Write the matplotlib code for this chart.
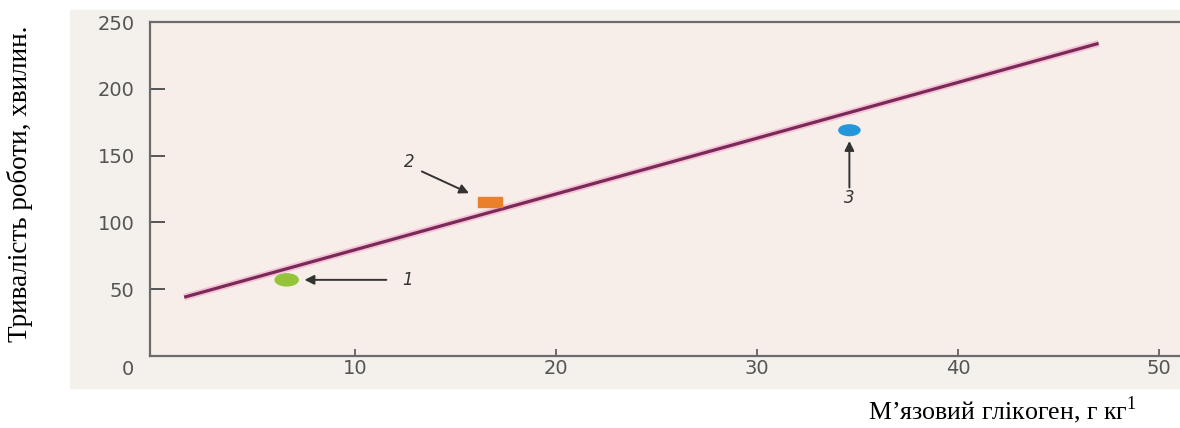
import numpy as np
import matplotlib
matplotlib.use("Agg")
import matplotlib.pyplot as plt
from matplotlib.patches import Ellipse, Rectangle

plt.rcParams["mathtext.fontset"] = "custom"
plt.rcParams["mathtext.rm"] = "Liberation Serif"

# дані
line_x = [1.5, 47.0]
line_y = [44.0, 234.0]

pt_labels = ["1", "2", "3"]
pt_x = [6.6, 16.7, 34.6]
pt_y = [57, 115, 169]
pt_colors = ["#93c43a", "#e9812c", "#2496dc"]

y_ticks = [50, 100, 150, 200, 250]
x_ticks = [10, 20, 30, 40, 50]

W, H = 1180, 428
fig = plt.figure(figsize=(W / 100, H / 100), dpi=100)
fig.patch.set_facecolor("white")

# фон сканованого малюнка
fig.add_artist(Rectangle((70 / W, 1 - 388 / H), 1110 / W, 378 / H,
                         transform=fig.transFigure, color="#f4f0ec", zorder=0))

ax = fig.add_axes([150 / W, 1 - 356 / H, 1030 / W, 334 / H])
ax.set_facecolor("#f7eee9")
ax.set_xlim(-0.2, 51.05)
ax.set_ylim(0, 250)

for s in ["top", "left", "bottom"]:
    ax.spines[s].set_color("#6b6b6b")
    ax.spines[s].set_linewidth(1.6)
ax.spines["right"].set_visible(False)

tick_font = dict(family="DejaVu Sans", size=14, color="#555555")
ax.set_yticks(y_ticks)
ax.set_yticklabels([str(v) for v in y_ticks], **tick_font)
ax.set_xticks(x_ticks)
ax.set_xticklabels([str(v) for v in x_ticks], **tick_font)
ax.tick_params(axis="y", direction="in", length=11, width=1.4, color="#555555", pad=11)
ax.tick_params(axis="x", direction="in", length=5, width=1.2, color="#555555", pad=2)
ax.text(-0.021, -0.012, "0", transform=ax.transAxes, ha="center", va="top", **tick_font)

# лінія регресії (з рожевим ореолом)
ax.plot(line_x, line_y, color="#f2a6c8", lw=5, alpha=0.6, solid_capstyle="butt", zorder=3)
ax.plot(line_x, line_y, color="#7a2a58", lw=2.3, solid_capstyle="butt", zorder=4)

# точки
ax.add_patch(Ellipse((pt_x[0], pt_y[0]), 1.15, 9, color=pt_colors[0], zorder=5))
ax.add_patch(Rectangle((pt_x[1] - 0.6, pt_y[1] - 3.8), 1.2, 7.6, color=pt_colors[1], zorder=5))
ax.add_patch(Ellipse((pt_x[2], pt_y[2]), 1.05, 8, color=pt_colors[2], zorder=5))

arrow = dict(arrowstyle="-|>", color="#333333", lw=1.4, mutation_scale=14)
lab_font = dict(size=12, style="italic", color="#333333", ha="center", va="center")
ax.annotate("", xy=(pt_x[0] + 0.75, pt_y[0]), xytext=(pt_x[0] + 5.1, pt_y[0]),
            arrowprops=arrow, zorder=6)
ax.text(pt_x[0] + 6.0, pt_y[0], pt_labels[0], **lab_font)
ax.annotate("", xy=(pt_x[1] - 0.9, pt_y[1] + 6), xytext=(pt_x[1] - 3.5, pt_y[1] + 24),
            arrowprops=arrow, zorder=6)
ax.text(pt_x[1] - 4.0, pt_y[1] + 30, pt_labels[1], **lab_font)
ax.annotate("", xy=(pt_x[2], pt_y[2] - 6), xytext=(pt_x[2], pt_y[2] - 45),
            arrowprops=arrow, zorder=6)
ax.text(pt_x[2], pt_y[2] - 51, pt_labels[2], **lab_font)

fig.text(20 / W, 1 - 184 / H, "Тривалість роботи, хвилин.", rotation=90,
         ha="center", va="center", family="Liberation Serif", size=19.5, color="black")
fig.text(868 / W, 1 - 410 / H, "М’язовий глікоген, г кг$^{\\mathrm{1}}$", ha="left",
         va="center", family="Liberation Serif", size=18.6, color="black")

fig.savefig("out.png", dpi=100)
